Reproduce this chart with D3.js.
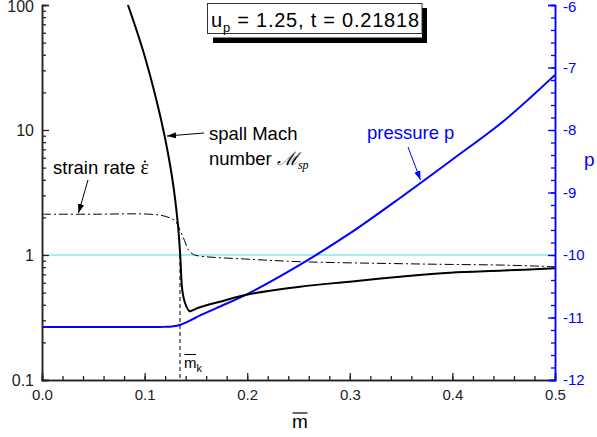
<!DOCTYPE html>
<html>
<head>
<meta charset="utf-8">
<script src="https://cdn.jsdelivr.net/npm/d3@7"></script>
<style>
  html, body { margin: 0; padding: 0; background: #fff; }
  svg { display: block; font-family: "Liberation Sans", Arial, sans-serif; }
</style>
</head>
<body>
<svg id="chart" width="597" height="437"></svg>
<script>
// Spall Mach number (log axis, left)
const machM   = [0.075, 0.0838, 0.0983, 0.1115, 0.1195, 0.1272, 0.1325, 0.1347, 0.1367, 0.1394, 0.1438, 0.1462, 0.154, 0.1735, 0.2027, 0.2515, 0.300, 0.349, 0.398, 0.45, 0.5];
const machVal = [158, 100, 43.6, 17.4, 8.95, 3.98, 1.74, 1.0, 0.525, 0.413, 0.355, 0.36, 0.382, 0.423, 0.487, 0.558, 0.612, 0.67, 0.722, 0.751, 0.783];

// Strain rate (log axis, left)
const strainM   = [0.0, 0.05, 0.105, 0.12, 0.13, 0.1345, 0.139, 0.1427, 0.1475, 0.154, 0.2027, 0.2515, 0.35, 0.4, 0.45, 0.5];
const strainVal = [2.12, 2.12, 2.12, 2.04, 1.87, 1.58, 1.3, 1.1, 1.01, 0.98, 0.924, 0.884, 0.852, 0.84, 0.83, 0.806];

// Pressure p (linear axis, right)
const presM   = [0.0, 0.05, 0.1, 0.12, 0.125, 0.13, 0.135, 0.14, 0.145, 0.15, 0.17, 0.2, 0.25, 0.3, 0.35, 0.4, 0.45, 0.5];
const presVal = [-11.15, -11.15, -11.15, -11.15, -11.147, -11.137, -11.115, -11.082, -11.043, -11.0, -10.85, -10.625, -10.17, -9.655, -9.075, -8.472, -7.856, -7.12];

// Reference level and kink position
const refLevel = 1;
const mK = 0.1345;

// Tick values
const xMajor = [0, 0.1, 0.2, 0.3, 0.4, 0.5];
const xMinor = d3.range(0, 0.5001, 0.02);
const yLMajor = [0.1, 1, 10, 100];
const yLMinor = [0.2,0.3,0.4,0.5,0.6,0.7,0.8,0.9, 2,3,4,5,6,7,8,9, 20,30,40,50,60,70,80,90];
const yRMajor = [-12, -11, -10, -9, -8, -7, -6];
const yRMinor = d3.range(-12, -5.999, 0.2);

const M = { left: 42, right: 555, top: 5, bottom: 380 };
const blue = "#0000ff";
const axisColor = "#222";

const svg = d3.select("#chart");

const x  = d3.scaleLinear().domain([0, 0.5]).range([M.left, M.right]);
const yL = d3.scaleLog().domain([0.1, 100]).range([M.bottom, M.top]);
const yR = d3.scaleLinear().domain([-12, -6]).range([M.bottom, M.top]);

const defs = svg.append("defs");
defs.append("clipPath").attr("id", "plotclip")
  .append("rect").attr("x", M.left).attr("y", M.top)
  .attr("width", M.right - M.left).attr("height", M.bottom - M.top);

function marker(id, color) {
  defs.append("marker").attr("id", id)
    .attr("viewBox", "0 0 10 10").attr("refX", 10).attr("refY", 5)
    .attr("markerWidth", 9).attr("markerHeight", 9)
    .attr("markerUnits", "userSpaceOnUse")
    .attr("orient", "auto")
    .append("path").attr("d", "M0,1.5 L10,5 L0,8.5 Z").attr("fill", color);
}
marker("arrK", "#000");
marker("arrB", blue);

const plot = svg.append("g").attr("clip-path", "url(#plotclip)");
const smooth = d3.curveCatmullRom.alpha(0.5);

// reference line at 1
plot.append("line")
  .attr("x1", M.left).attr("x2", M.right)
  .attr("y1", yL(refLevel)).attr("y2", yL(refLevel))
  .attr("stroke", "#4fdcdc").attr("stroke-width", 1.2);

// dashed marker of m_k
plot.append("line")
  .attr("x1", x(mK)).attr("x2", x(mK))
  .attr("y1", yL(refLevel)).attr("y2", M.bottom)
  .attr("stroke", "#000").attr("stroke-width", 1).attr("stroke-dasharray", "4,3");

// strain rate
const strainData = strainM.map((m, i) => [m, strainVal[i]]);
plot.append("path").datum(strainData)
  .attr("fill", "none").attr("stroke", "#000").attr("stroke-width", 1)
  .attr("stroke-dasharray", "9,3,2,3")
  .attr("d", d3.line().x(d => x(d[0])).y(d => yL(d[1])).curve(smooth));

// pressure
const presData = presM.map((m, i) => [m, presVal[i]]);
plot.append("path").datum(presData)
  .attr("fill", "none").attr("stroke", blue).attr("stroke-width", 2)
  .attr("d", d3.line().x(d => x(d[0])).y(d => yR(d[1])).curve(smooth));

// spall Mach number
const machData = machM.map((m, i) => [m, machVal[i]]);
plot.append("path").datum(machData)
  .attr("fill", "none").attr("stroke", "#000").attr("stroke-width", 2)
  .attr("d", d3.line().x(d => x(d[0])).y(d => yL(d[1])).curve(smooth));

// ---- axes ----
function styleAxis(g, color, fs) {
  g.select(".domain").attr("stroke", color).attr("stroke-width", 1.5);
  g.selectAll(".tick line").attr("stroke", color).attr("stroke-width", 1.3);
  g.selectAll(".tick text").attr("fill", color).attr("font-size", fs || 15)
    .attr("font-family", "'Liberation Sans', Arial, sans-serif");
}

// bottom
const gxMinor = svg.append("g").attr("transform", `translate(0,${M.bottom})`)
  .call(d3.axisBottom(x).tickValues(xMinor).tickSize(-4).tickFormat(""));
styleAxis(gxMinor, axisColor);
const gx = svg.append("g").attr("transform", `translate(0,${M.bottom})`)
  .call(d3.axisBottom(x).tickValues(xMajor).tickSize(-7).tickPadding(9).tickFormat(d3.format(".1f")));
styleAxis(gx, axisColor);

// left (log)
const gyMinor = svg.append("g").attr("transform", `translate(${M.left},0)`)
  .call(d3.axisLeft(yL).tickValues(yLMinor).tickSize(-4).tickFormat(""));
styleAxis(gyMinor, axisColor);
const gy = svg.append("g").attr("transform", `translate(${M.left},0)`)
  .call(d3.axisLeft(yL).tickValues(yLMajor).tickSize(-7).tickPadding(8).tickFormat(d => String(d)));
styleAxis(gy, axisColor, 16);
gy.selectAll(".tick text").filter(d => d === 100).attr("dy", "0.42em");

// right (linear, blue)
const grMinor = svg.append("g").attr("transform", `translate(${M.right},0)`)
  .call(d3.axisRight(yR).tickValues(yRMinor).tickSize(-4).tickFormat(""));
styleAxis(grMinor, blue);
const gr = svg.append("g").attr("transform", `translate(${M.right},0)`)
  .call(d3.axisRight(yR).tickValues(yRMajor).tickSize(-7).tickPadding(8).tickFormat(d => "-" + Math.abs(d)));
styleAxis(gr, blue);
gr.selectAll(".tick text").filter(d => d === -6).attr("dy", "0.42em");

// ---- axis titles ----
const xt = svg.append("text").attr("x", 300).attr("y", 428)
  .attr("text-anchor", "middle").attr("font-size", 19).text("m");
const xb = xt.node().getBBox();
svg.append("line").attr("x1", xb.x + 0.5).attr("x2", xb.x + xb.width - 0.5)
  .attr("y1", 413).attr("y2", 413).attr("stroke", "#000").attr("stroke-width", 1.2);

svg.append("text").attr("x", 584).attr("y", 166)
  .attr("font-size", 19).attr("fill", blue).text("p");

// ---- m_k label ----
const mk = svg.append("text").attr("x", 184).attr("y", 368).attr("font-size", 15);
mk.append("tspan").text("m");
mk.append("tspan").attr("font-size", 11).attr("dy", 4).text("k");
const mkw = mk.node().firstChild.getComputedTextLength();
svg.append("line").attr("x1", 184.5).attr("x2", 184 + mkw - 0.5)
  .attr("y1", 354.5).attr("y2", 354.5).attr("stroke", "#000").attr("stroke-width", 1);

// ---- annotations ----
const annFs = 18.5;
svg.append("text").attr("x", 209).attr("y", 139.5).attr("font-size", annFs).text("spall Mach");
const nm = svg.append("text").attr("x", 209).attr("y", 165).attr("font-size", annFs);
nm.append("tspan").text("number ");
nm.append("tspan").attr("font-style", "italic").attr("font-family", "'DejaVu Serif', serif").text("\u2133");
nm.append("tspan").attr("font-style", "italic").attr("font-family", "'Liberation Serif', serif")
  .attr("font-size", 12).attr("dy", 4).text("sp");
svg.append("line").attr("x1", 204).attr("y1", 133).attr("x2", 167).attr("y2", 136)
  .attr("stroke", "#000").attr("stroke-width", 1).attr("marker-end", "url(#arrK)");

// strain rate label: epsilon with a dot above it
const srLead = "strain rate ";
const sr = svg.append("text").attr("x", 53).attr("y", 173.5).attr("font-size", annFs);
sr.append("tspan").text(srLead);
sr.append("tspan").attr("font-family", "'Liberation Serif', serif").attr("font-size", 20).text("\u03B5");
const epsStart = sr.node().getStartPositionOfChar(srLead.length);
const epsEnd = sr.node().getEndPositionOfChar(srLead.length);
svg.append("circle").attr("cx", (epsStart.x + epsEnd.x) / 2 + 0.3).attr("cy", 161.5).attr("r", 1.1).attr("fill", "#000");
svg.append("line").attr("x1", 88).attr("y1", 180).attr("x2", 78.5).attr("y2", 213)
  .attr("stroke", "#000").attr("stroke-width", 1).attr("marker-end", "url(#arrK)");

svg.append("text").attr("x", 367).attr("y", 138.5).attr("font-size", annFs).attr("fill", blue).text("pressure p");
svg.append("line").attr("x1", 408).attr("y1", 147).attr("x2", 420.5).attr("y2", 180)
  .attr("stroke", blue).attr("stroke-width", 1).attr("marker-end", "url(#arrB)");

// ---- title box with drop shadow ----
const box = svg.append("g");
box.append("rect").attr("x", 213).attr("y", 8).attr("width", 214).attr("height", 35).attr("fill", "#000");
box.append("rect").attr("x", 207).attr("y", 3.5).attr("width", 215).attr("height", 34).attr("fill", "#fff");
box.append("rect").attr("x", 207.5).attr("y", 3.5).attr("width", 214.5).attr("height", 30)
  .attr("fill", "#fff").attr("stroke", "#333").attr("stroke-width", 1);
const tt = box.append("text").attr("x", 211).attr("y", 27).attr("font-size", 20);
tt.append("tspan").text("u");
tt.append("tspan").attr("font-size", 13).attr("dy", 5).text("p");
tt.append("tspan").attr("dy", -5).text(" = 1.25, t = 0.21818");
// spread the title so it spans the box width
const ttW = tt.node().getComputedTextLength();
const ttChars = "up = 1.25, t = 0.21818".length;
tt.attr("letter-spacing", Math.max(0, (208 - ttW) / (ttChars - 1)));
</script>
</body>
</html>
